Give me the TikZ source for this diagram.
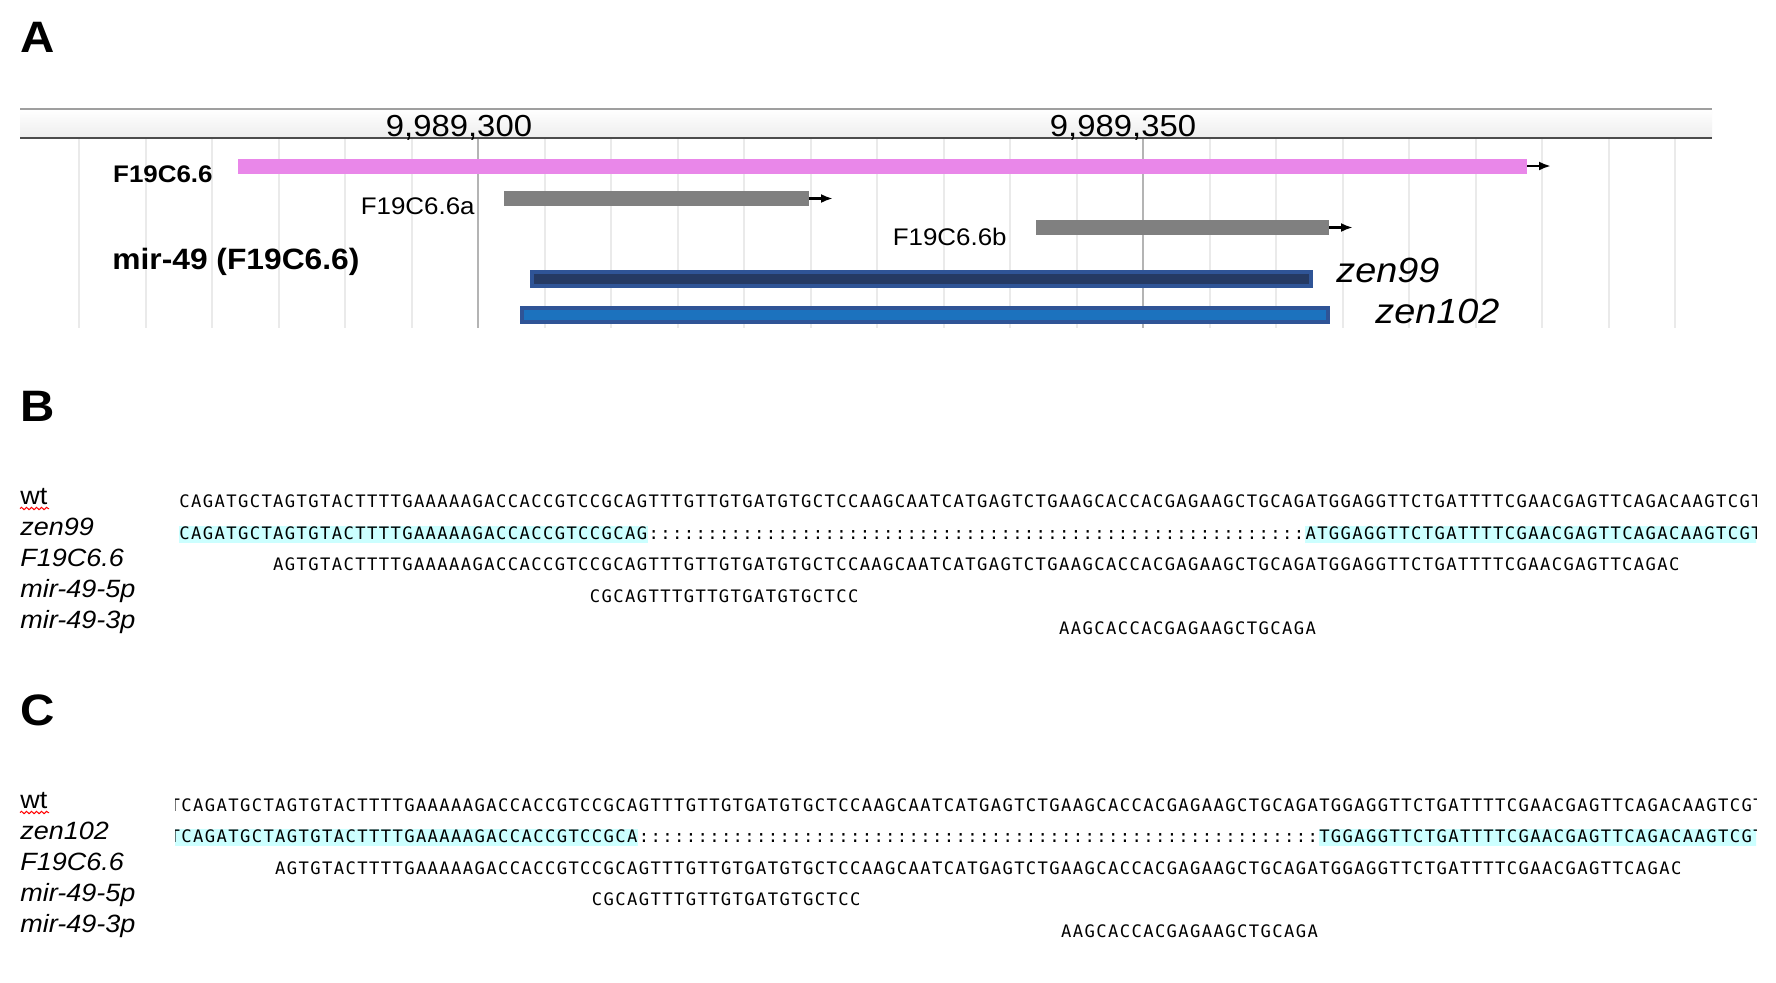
\documentclass[tikz,border=0pt]{standalone}
\usepackage{fontspec}
\setmainfont{Liberation Sans}[FakeStretch=1.08]
\newfontfamily\seqfont{DejaVu Sans Mono}[LetterSpace=8.0]
\usetikzlibrary{arrows.meta, decorations.pathmorphing}

\definecolor{genepink}{RGB}{233,135,233}
\definecolor{isogray}{RGB}{128,128,128}
\definecolor{zennavy}{RGB}{37,58,99}
\definecolor{zenblue}{RGB}{28,114,190}
\definecolor{zenedge}{RGB}{47,84,150}
\definecolor{hlcyan}{RGB}{204,255,255}
\definecolor{gridlight}{RGB}{234,234,234}
\definecolor{gridmajor}{RGB}{180,180,180}

\newcommand{\cw}{11.73}
\newcommand{\colonsten}{::::::::::}

\tikzset{
	panel/.style = {anchor = base west, inner sep = 0, font = \fontsize{22}{22}\selectfont\bfseries},
	rowlabel/.style = {anchor = base west, inner sep = 0, font = \fontsize{12.5}{12.5}\selectfont\itshape},
	seqrow/.style = {anchor = base west, inner sep = 0, font = \seqfont\fontsize{8.6}{8.6}\selectfont},
	strand/.style = {line width = 1.2pt, -{Latex[length = 6pt, width = 4.5pt]}},
	spellmark/.style = {red, line width = 0.5pt, decorate, decoration = {snake, amplitude = 0.6pt, segment length = 2.5pt}}
}

\begin{document}
\begin{tikzpicture}[x = 0.5pt, y = -0.5pt]
	\fill[white] (0, 0) rectangle (1776, 982);
	\useasboundingbox (0, 0) rectangle (1776, 982);
	% A
	\node[panel] (pa) at (20, 52) {A};
	\shade[top color = white, bottom color = gray!14] (20, 109) rectangle (1712, 138);
	\draw[gray!75, line width = 1.2pt] (20, 109) -- (1712, 109);
	\draw[black!70, line width = 1.3pt] (20, 138) -- (1712, 138);
	\foreach \k in {-6,...,18} {
		\draw[gridlight, line width = 1pt] ({478 + 66.5*\k}, 139) -- ({478 + 66.5*\k}, 328);
	}
	\draw[gridmajor, line width = 1pt] (478, 139) -- (478, 328);
	\draw[gridmajor, line width = 1pt] (1143, 139) -- (1143, 328);
	\node[anchor = base, inner sep = 0, font = \fontsize{15.2}{15.2}\selectfont] (pos300) at (459, 136) {9,989,300};
	\node[anchor = base, inner sep = 0, font = \fontsize{15.2}{15.2}\selectfont] (pos350) at (1123, 136) {9,989,350};
	% genes
	\fill[genepink] (238, 158.5) rectangle (1527, 173.5);
	\draw[strand] (1527, 166) -- (1551, 166);
	\fill[isogray] (504, 191) rectangle (809, 206);
	\draw[strand] (809, 198.5) -- (833, 198.5);
	\fill[isogray] (1036, 220) rectangle (1329, 235);
	\draw[strand] (1329, 227.5) -- (1353, 227.5);
	\node[anchor = base east, inner sep = 0, font = \fontsize{12}{12}\selectfont\bfseries] (f19lbl) at (213, 182) {F19C6.6};
	\node[anchor = base east, inner sep = 0, font = \fontsize{12}{12}\selectfont] (f19albl) at (475, 214) {F19C6.6a};
	\node[anchor = base east, inner sep = 0, font = \fontsize{12}{12}\selectfont] (f19blbl) at (1007, 245) {F19C6.6b};
	\node[anchor = base west, inner sep = 0, font = \fontsize{14.7}{14.7}\selectfont\bfseries] (mirlbl) at (112, 269) {mir-49 (F19C6.6)};
	% deletions
	\draw[zenedge, fill = zennavy, line width = 2pt] (532, 272) rectangle (1311, 286);
	\draw[zenedge, fill = zenblue, line width = 2pt] (522, 308) rectangle (1328, 321.5);
	\node[anchor = base west, inner sep = 0, font = \fontsize{17.5}{17.5}\selectfont\itshape] (zen99lbl) at (1336, 282) {zen99};
	\node[anchor = base west, inner sep = 0, font = \fontsize{17.5}{17.5}\selectfont\itshape] (zen102lbl) at (1375, 323) {zen102};
	% B
	\node[panel] (pb) at (20, 421) {B};
	\node[rowlabel, font = \fontsize{12.5}{12.5}\selectfont] (bwt) at (20, 504) {wt};
	\draw[spellmark] (20, 508.5) -- (49, 508.5);
	\node[rowlabel] (bzen) at (20, 535) {zen99};
	\node[rowlabel] (bf19) at (20, 566) {F19C6.6};
	\node[rowlabel] (b5p) at (20, 597) {mir-49-5p};
	\node[rowlabel] (b3p) at (20, 628) {mir-49-3p};
	\begin{scope}
		\clip (176, 470) rectangle (1756, 660);
		\fill[hlcyan] (179, 525.7) rectangle ({179 + 40*\cw}, 542.7);
		\fill[hlcyan] ({179 + 96*\cw}, 525.7) rectangle (1760, 542.7);
		\node[seqrow] (bwtseq) at (179, 507.5) {CAGATGCTAGTGTACTTTTGAAAAAGACCACCGTCCGCAGTTTGTTGTGATGTGCTCCAAGCAATCATGAGTCTGAAGCACCACGAGAAGCTGCAGATGGAGGTTCTGATTTTCGAACGAGTTCAGACAAGTCGT};
		\node[seqrow] (bzenseq) at (179, 539.2) {CAGATGCTAGTGTACTTTTGAAAAAGACCACCGTCCGCAG\colonsten\colonsten\colonsten\colonsten\colonsten::::::ATGGAGGTTCTGATTTTCGAACGAGTTCAGACAAGTCGT};
		\node[seqrow] (bf19seq) at ({179 + 8*\cw}, 570.9) {AGTGTACTTTTGAAAAAGACCACCGTCCGCAGTTTGTTGTGATGTGCTCCAAGCAATCATGAGTCTGAAGCACCACGAGAAGCTGCAGATGGAGGTTCTGATTTTCGAACGAGTTCAGAC};
		\node[seqrow] (b5pseq) at ({179 + 35*\cw}, 602.6) {CGCAGTTTGTTGTGATGTGCTCC};
		\node[seqrow] (b3pseq) at ({179 + 75*\cw}, 634.3) {AAGCACCACGAGAAGCTGCAGA};
	\end{scope}
	% C
	\node[panel] (pc) at (20, 725) {C};
	\node[rowlabel, font = \fontsize{12.5}{12.5}\selectfont] (cwt) at (20, 808) {wt};
	\draw[spellmark] (20, 812.5) -- (49, 812.5);
	\node[rowlabel] (czen) at (20, 839) {zen102};
	\node[rowlabel] (cf19) at (20, 870) {F19C6.6};
	\node[rowlabel] (c5p) at (20, 901) {mir-49-5p};
	\node[rowlabel] (c3p) at (20, 932) {mir-49-3p};
	\begin{scope}
		\clip (175, 780) rectangle (1756, 960);
		\fill[hlcyan] (175, 829) rectangle ({181 + 39*\cw}, 846);
		\fill[hlcyan] ({181 + 97*\cw}, 829) rectangle (1760, 846);
		\node[seqrow] (cwtseq) at ({181 - \cw}, 811) {TCAGATGCTAGTGTACTTTTGAAAAAGACCACCGTCCGCAGTTTGTTGTGATGTGCTCCAAGCAATCATGAGTCTGAAGCACCACGAGAAGCTGCAGATGGAGGTTCTGATTTTCGAACGAGTTCAGACAAGTCGT};
		\node[seqrow] (czenseq) at ({181 - \cw}, 842.5) {TCAGATGCTAGTGTACTTTTGAAAAAGACCACCGTCCGCA\colonsten\colonsten\colonsten\colonsten\colonsten::::::::TGGAGGTTCTGATTTTCGAACGAGTTCAGACAAGTCGT};
		\node[seqrow] (cf19seq) at ({181 + 8*\cw}, 874) {AGTGTACTTTTGAAAAAGACCACCGTCCGCAGTTTGTTGTGATGTGCTCCAAGCAATCATGAGTCTGAAGCACCACGAGAAGCTGCAGATGGAGGTTCTGATTTTCGAACGAGTTCAGAC};
		\node[seqrow] (c5pseq) at ({181 + 35*\cw}, 905.5) {CGCAGTTTGTTGTGATGTGCTCC};
		\node[seqrow] (c3pseq) at ({181 + 75*\cw}, 937) {AAGCACCACGAGAAGCTGCAGA};
	\end{scope}
\end{tikzpicture}
\end{document}
